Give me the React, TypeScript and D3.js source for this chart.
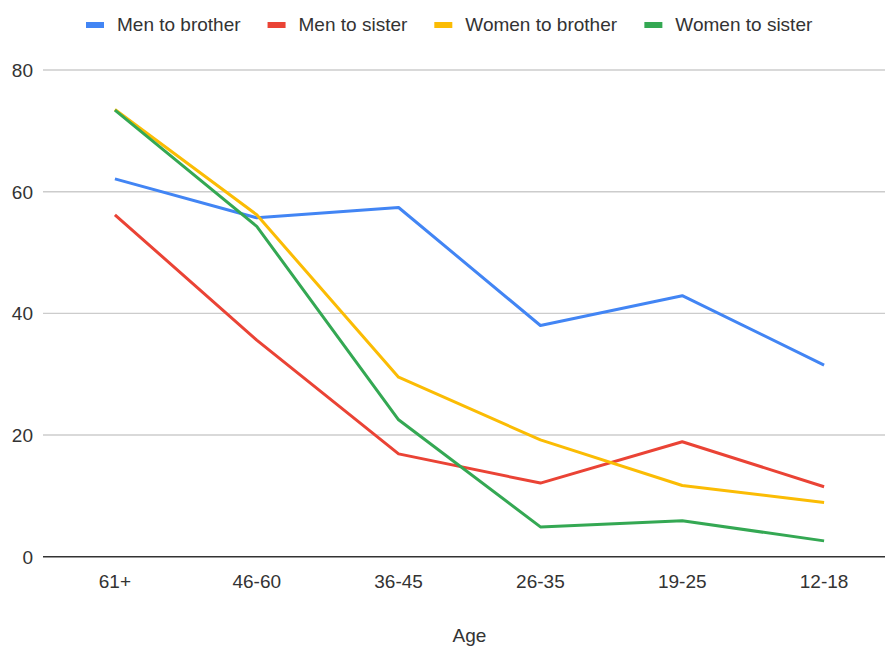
import React from "react";
import * as d3 from "d3";

const categories = ["61+", "46-60", "36-45", "26-35", "19-25", "12-18"];
const menToBrother = [62.1, 55.7, 57.4, 38.0, 42.9, 31.5];
const menToSister = [56.2, 35.6, 16.9, 12.1, 18.9, 11.5];
const womenToBrother = [73.5, 56.2, 29.5, 19.2, 11.7, 8.9];
const womenToSister = [73.4, 54.3, 22.5, 4.9, 5.9, 2.6];
const yTicks = [0, 20, 40, 60, 80];
const seriesNames = ["Men to brother", "Men to sister", "Women to brother", "Women to sister"];
const seriesColors = ["#4285F4", "#EA4335", "#FBBC04", "#34A853"];
const xTitle = "Age";

const W = 885;
const H = 647;
const FONT = "'Liberation Sans', Arial, sans-serif";

export default function App() {
  const series = [menToBrother, menToSister, womenToBrother, womenToSister];
  const x = d3.scaleBand<string>().domain(categories).range([44, 895]);
  const y = d3.scaleLinear().domain([0, 80]).range([556.7, 70]);
  const cx = (c: string) => (x(c) as number) + x.bandwidth() / 2;
  const line = d3
    .line<number>()
    .x((_, i) => cx(categories[i]))
    .y((d) => y(d));

  // legend layout
  const fs = 19;
  const charW = (s: string) => {
    const m: Record<string, number> = {
      M: 0.833, e: 0.556, n: 0.556, " ": 0.278, t: 0.278, o: 0.556, b: 0.556, r: 0.333,
      h: 0.556, s: 0.5, i: 0.222, W: 0.944, m: 0.833,
    };
    return s.split("").reduce((a, ch) => a + (m[ch] ?? 0.556), 0) * fs;
  };
  const swW = 18;
  const swGap = 13;
  const itemGap = 27;
  let lx = 86;
  const legendItems = seriesNames.map((name, i) => {
    const item = { name, color: seriesColors[i], x: lx };
    lx += swW + swGap + charW(name) + itemGap;
    return item;
  });

  return (
    <svg
      width={W}
      height={H}
      style={{ position: "absolute", left: 0, top: 0, background: "#fff" }}
      fontFamily={FONT}
    >
      <rect width={W} height={H} fill="#fff" />
      {/* gridlines */}
      {yTicks.map((t) => (
        <g key={t}>
          <line
            x1={43}
            x2={W}
            y1={y(t)}
            y2={y(t)}
            stroke={t === 0 ? "#333" : "#ccc"}
            strokeWidth={t === 0 ? 1.6 : 1.4}
          />
          <text x={33} y={y(t)} dy="0.36em" textAnchor="end" fontSize={fs} fill="#333">
            {t}
          </text>
        </g>
      ))}
      {/* x labels */}
      {categories.map((c) => (
        <text key={c} x={cx(c)} y={588} textAnchor="middle" fontSize={fs} fill="#333">
          {c}
        </text>
      ))}
      <text x={469.5} y={642} textAnchor="middle" fontSize={fs} fill="#333">
        {xTitle}
      </text>
      {/* lines */}
      {series.map((s, i) => (
        <path
          key={i}
          d={line(s) as string}
          fill="none"
          stroke={seriesColors[i]}
          strokeWidth={3}
          strokeLinejoin="round"
        />
      ))}
      {/* legend */}
      {legendItems.map((it) => (
        <g key={it.name}>
          <rect x={it.x} y={22} width={swW} height={6} fill={it.color} />
          <text x={it.x + swW + swGap} y={31} fontSize={fs} fill="#333">
            {it.name}
          </text>
        </g>
      ))}
    </svg>
  );
}
